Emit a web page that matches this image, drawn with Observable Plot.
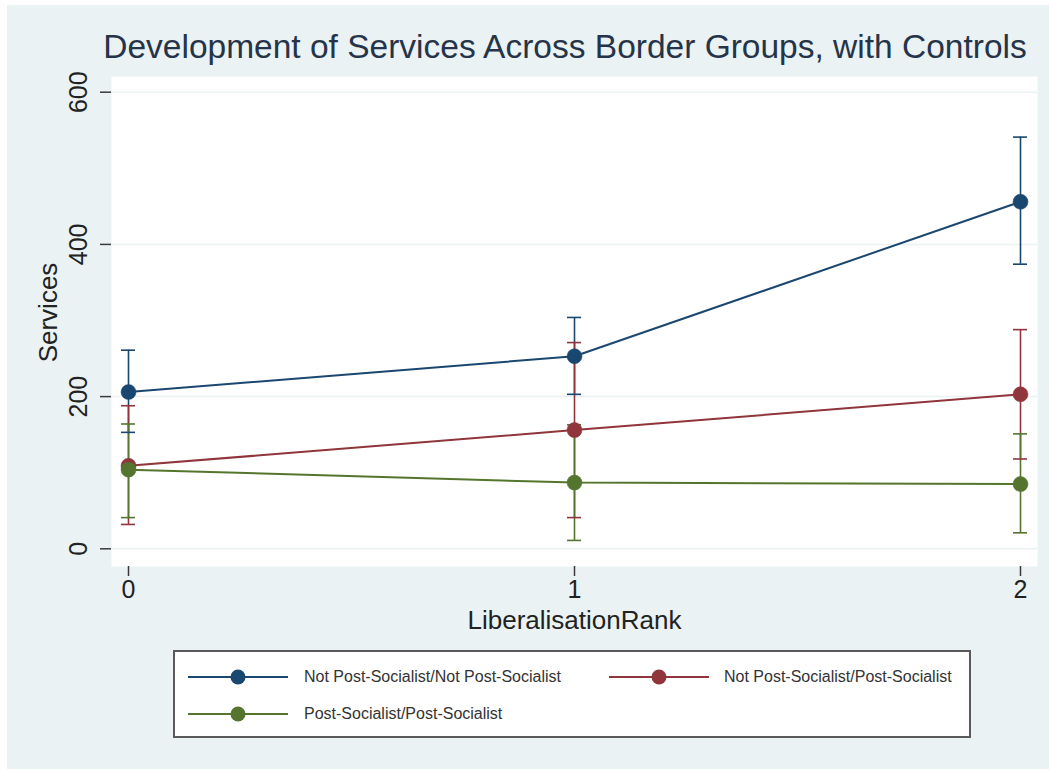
<!DOCTYPE html>
<html>
<head>
<meta charset="utf-8">
<script src="https://cdn.jsdelivr.net/npm/d3@7"></script>
<script src="https://cdn.jsdelivr.net/npm/@observablehq/plot@0.6"></script>
<style>
  html, body { margin: 0; padding: 0; background: #ffffff; }
  body { width: 1049px; height: 769px; position: relative; overflow: hidden;
         font-family: "Liberation Sans", Arial, sans-serif; }
  #bg { position: absolute; left: 7px; top: 5px; width: 1042px; height: 764px; background: #eaf2f3; }
  #title { position: absolute; left: 0; width: 1130px; top: 30px; text-align: center;
           font-size: 33.5px; line-height: 33.5px; color: #26344a; white-space: nowrap; }
  #chart { position: absolute; left: 0; top: 70px; }
  #legend { position: absolute; left: 173px; top: 650px; width: 794px; height: 84px;
            background: #ffffff; border: 2px solid #5a5a5a; }
  .sw { position: absolute; width: 100px; height: 20px; }
  .lt { position: absolute; font-size: 16px; line-height: 20px; color: #333; white-space: nowrap; }
</style>
</head>
<body>
<div id="bg"></div>
<div id="title"></div>
<div id="chart"></div>
<div id="legend"></div>
<script>
// ---- data ----
const titleText = "Development of Services Across Border Groups, with Controls";
const xTitle = "LiberalisationRank";
const yTitle = "Services";
const liberalisationRank = [0, 1, 2];
const xTicks = [0, 1, 2];
const yTicks = [0, 200, 400, 600];
const groupNames = [
  "Not Post-Socialist/Not Post-Socialist",
  "Not Post-Socialist/Post-Socialist",
  "Post-Socialist/Post-Socialist"
];
const groupColors = ["#1a476f", "#90353b", "#55752f"];
// point estimates
const npsNpsMean = [206, 253, 456];
const npsPsMean  = [109, 156, 203];
const psPsMean   = [104, 87, 85];
// confidence interval bounds
const npsNpsLo = [153, 203, 374];
const npsNpsHi = [261, 304, 541];
const npsPsLo  = [32, 41, 118];
const npsPsHi  = [188, 271, 288];
const psPsLo   = [41, 11, 21];
const psPsHi   = [164, 163, 151];

const means = [npsNpsMean, npsPsMean, psPsMean];
const los = [npsNpsLo, npsPsLo, psPsLo];
const his = [npsNpsHi, npsPsHi, psPsHi];

const rows = [];
groupNames.forEach((g, gi) => {
  liberalisationRank.forEach((x, i) => {
    rows.push({group: g, x, mean: means[gi][i], lo: los[gi][i], hi: his[gi][i]});
  });
});

document.getElementById("title").textContent = titleText;

const font = '"Liberation Sans", Arial, sans-serif';
const ink = "#222";
const axisInk = "#3a3a3a";

const chart = Plot.plot({
  width: 1049,
  height: 570,
  marginLeft: 111,
  marginRight: 12,
  marginTop: 6,
  marginBottom: 74,
  insetLeft: 17,
  insetRight: 17,
  insetTop: 15.7,
  insetBottom: 17.7,
  style: {background: "transparent", fontFamily: font, color: ink, overflow: "visible"},
  x: {domain: [0, 2]},
  y: {domain: [0, 600]},
  color: {domain: groupNames, range: groupColors},
  marks: [
    Plot.frame({fill: "white", stroke: null}),
    Plot.gridY(yTicks, {stroke: "#eaf2f3", strokeOpacity: 1, strokeWidth: 1.5}),
    Plot.axisY(yTicks, {tickSize: 11, tickFormat: () => "", stroke: axisInk, strokeWidth: 1.5, line: true, label: null}),
    Plot.text(yTicks, {y: d => d, text: d => String(d), frameAnchor: "left", dx: -33, rotate: -90,
      textAnchor: "middle", lineAnchor: "middle", fontSize: 25, fill: ink}),
    Plot.text([yTitle], {text: d => d, frameAnchor: "left", dx: -63, dy: -9, rotate: -90,
      textAnchor: "middle", lineAnchor: "middle", fontSize: 26, fill: ink}),
    Plot.axisX(xTicks, {tickSize: 10, tickPadding: 4, fontSize: 25, stroke: axisInk, fill: ink,
      strokeWidth: 1.5, line: true, label: null, tickFormat: d => String(d)}),
    Plot.text([xTitle], {text: d => d, frameAnchor: "bottom", dy: 54, lineAnchor: "middle",
      fontSize: 26, fill: ink}),
    // confidence intervals
    Plot.ruleX(rows, {x: "x", y1: "lo", y2: "hi", stroke: "group", strokeWidth: 1.6}),
    Plot.ruleY(rows, {y: "lo", x1: "x", x2: "x", insetLeft: -7, insetRight: -7, stroke: "group", strokeWidth: 1.6}),
    Plot.ruleY(rows, {y: "hi", x1: "x", x2: "x", insetLeft: -7, insetRight: -7, stroke: "group", strokeWidth: 1.6}),
    // lines and markers
    Plot.line(rows, {x: "x", y: "mean", z: "group", stroke: "group", strokeWidth: 2}),
    Plot.dot(rows, {x: "x", y: "mean", r: 7.5, fill: "group", stroke: "group", strokeWidth: 0.5})
  ]
});
document.getElementById("chart").appendChild(chart);

// ---- legend ----
const legend = document.getElementById("legend");
const legendPos = [
  {sx: 188, tx: 304, y: 677},
  {sx: 609, tx: 724, y: 677},
  {sx: 188, tx: 304, y: 714}
];
const L = 173 + 2, T = 650 + 2; // inner origin of legend box
groupNames.forEach((g, i) => {
  const p = legendPos[i];
  const sw = document.createElementNS("http://www.w3.org/2000/svg", "svg");
  sw.setAttribute("class", "sw");
  sw.setAttribute("width", 100); sw.setAttribute("height", 20);
  sw.style.left = (p.sx - L) + "px";
  sw.style.top = (p.y - 10 - T) + "px";
  sw.innerHTML = `<line x1="0" x2="100" y1="10" y2="10" stroke="${groupColors[i]}" stroke-width="2"/>` +
                 `<circle cx="50" cy="10" r="7.5" fill="${groupColors[i]}"/>`;
  legend.appendChild(sw);
  const t = document.createElement("div");
  t.className = "lt";
  t.textContent = g;
  t.style.left = (p.tx - L) + "px";
  t.style.top = (p.y - 10 - T) + "px";
  legend.appendChild(t);
});
</script>
</body>
</html>
